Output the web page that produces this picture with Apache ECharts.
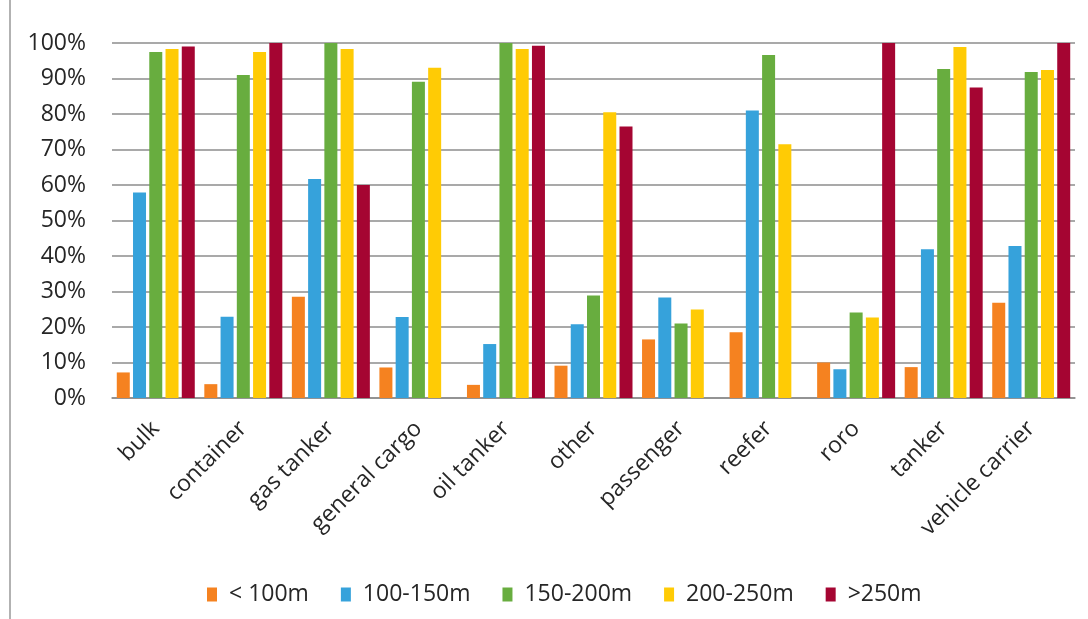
<!DOCTYPE html>
<html>
<head>
<meta charset="utf-8">
<script src="https://cdn.jsdelivr.net/npm/echarts@6/dist/echarts.min.js"></script>
<style>
  html, body { margin: 0; padding: 0; background: #fff; }
  #chart { width: 1088px; height: 619px; }
</style>
</head>
<body>
<div id="chart"></div>
<script>
// ship types
var categories = ["bulk", "container", "gas tanker", "general cargo", "oil tanker", "other",
  "passenger", "reefer", "roro", "tanker", "vehicle carrier"];
var seriesNames = ["< 100m", "100-150m", "150-200m", "200-250m", ">250m"];
var colors = ["#F58220", "#36A2DB", "#68AD3F", "#FFCB05", "#A50532"];

// percent values per length class
var lt100 = [7.2, 3.9, 28.5, 8.6, 3.7, 9.1, 16.5, 18.5, 10.0, 8.7, 26.8];
var len100to150 = [57.9, 22.9, 61.7, 22.8, 15.2, 20.8, 28.3, 81.0, 8.1, 41.9, 42.8];
var len150to200 = [97.5, 91.0, 100, 89.1, 100, 28.9, 21.0, 96.6, 24.1, 92.7, 91.8];
var len200to250 = [98.3, 97.5, 98.3, 93.0, 98.3, 80.5, 24.9, 71.5, 22.7, 98.9, 92.4];
var gt250 = [99.0, 100, 60.0, 0, 99.2, 76.5, 0, 0, 100, 87.5, 100];

var allData = [lt100, len100to150, len150to200, len200to250, gt250];
var fontName = "Open Sans";

var myChart = echarts.init(document.getElementById("chart"));
myChart.setOption({
  animation: false,
  color: colors,
  textStyle: { fontFamily: fontName },
  graphic: [
    {
      type: "line",
      shape: { x1: 10, y1: 0, x2: 10, y2: 619 },
      style: { stroke: "#999", lineWidth: 1.5 }
    }
  ],
  grid: {
    left: 112,
    right: 13,
    top: 43,
    bottom: 221
  },
  legend: {
    data: seriesNames,
    left: 202,
    top: 578,
    itemWidth: 10,
    itemHeight: 14,
    itemGap: 32,
    icon: "rect",
    textStyle: {
      fontFamily: fontName,
      fontSize: 23,
      color: "#262626",
      padding: [0, 0, 0, 7]
    }
  },
  xAxis: {
    type: "category",
    data: categories,
    axisTick: { show: false },
    axisLine: { lineStyle: { color: "#8c8c8c", width: 1.5 } },
    axisLabel: {
      rotate: 45,
      interval: 0,
      margin: 27,
      fontFamily: fontName,
      fontSize: 23,
      color: "#262626"
    }
  },
  yAxis: {
    type: "value",
    min: 0,
    max: 100,
    interval: 10,
    axisLine: { show: false },
    axisTick: { show: false },
    splitLine: { lineStyle: { color: "#8c8c8c", width: 1.5 } },
    axisLabel: {
      formatter: "{value}%",
      margin: 26,
      fontFamily: fontName,
      fontSize: 23,
      color: "#262626"
    }
  },
  series: seriesNames.map(function (name, i) {
    return {
      name: name,
      type: "bar",
      barWidth: 13,
      barGap: "25%",
      data: allData[i]
    };
  })
});
</script>
</body>
</html>
